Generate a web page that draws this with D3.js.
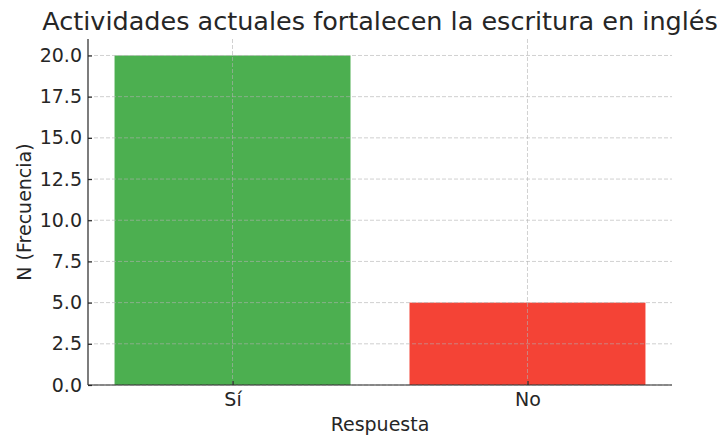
<!DOCTYPE html>
<html>
<head>
<meta charset="utf-8">
<script src="https://cdn.jsdelivr.net/npm/d3@7"></script>
<style>
  body { margin: 0; background: #fff; }
  text { font-family: "DejaVu Sans", sans-serif; fill: #262626; }
</style>
</head>
<body>
<svg id="chart" width="720" height="436"></svg>
<script>
var categories = ["Sí", "No"];
var counts = [20, 5];
var barColors = ["#4CAF50", "#F44336"];
var yTicks = [0, 2.5, 5, 7.5, 10, 12.5, 15, 17.5, 20];

var margin = {top: 39, right: 48, bottom: 51, left: 88};
var width = 720, height = 436;
var innerW = width - margin.left - margin.right;
var innerH = height - margin.top - margin.bottom;

var svg = d3.select("#chart");
var g = svg.append("g").attr("transform", "translate(" + margin.left + "," + margin.top + ")");

// matplotlib-like linear x for categories
var x = d3.scaleLinear().domain([-0.49, 1.49]).range([0, innerW]);
var y = d3.scaleLinear().domain([0, 21]).range([innerH, 0]);
var barW = x(0.8) - x(0);

g.selectAll("rect.bar")
  .data(categories)
  .enter()
  .append("rect")
  .attr("class", "bar")
  .attr("x", function(d, i) { return x(i) - barW / 2; })
  .attr("y", function(d, i) { return y(counts[i]); })
  .attr("width", barW)
  .attr("height", function(d, i) { return innerH - y(counts[i]); })
  .attr("fill", function(d, i) { return barColors[i]; });

// grid on top of bars
var grid = g.append("g").attr("class", "grid");
grid.selectAll("line.h")
  .data(yTicks)
  .enter()
  .append("line")
  .attr("x1", 0).attr("x2", innerW)
  .attr("y1", function(d) { return y(d); })
  .attr("y2", function(d) { return y(d); });
grid.selectAll("line.v")
  .data(categories)
  .enter()
  .append("line")
  .attr("x1", function(d, i) { return x(i); })
  .attr("x2", function(d, i) { return x(i); })
  .attr("y1", 0).attr("y2", innerH);
grid.selectAll("line")
  .attr("stroke", "#b0b0b0")
  .attr("stroke-opacity", 0.6)
  .attr("stroke-width", 1)
  .attr("stroke-dasharray", "4,2");

// axes, ticks inward
var yAxis = d3.axisRight(y).tickValues(yTicks).tickFormat(d3.format(".1f")).tickSize(4);
var yg = g.append("g").call(yAxis);
yg.selectAll("text").attr("text-anchor", "end").attr("x", -6).style("font-size", "19px");

var xAxis = d3.axisTop(x).tickValues([0, 1]).tickFormat(function(d) { return categories[d]; }).tickSize(4);
var xg = g.append("g").attr("transform", "translate(0," + innerH + ")").call(xAxis);
xg.selectAll("text").attr("y", 21).attr("dy", "0").style("font-size", "19px");

[yg, xg].forEach(function(a) {
  a.select(".domain").remove();
  a.selectAll("line").attr("stroke", "#262626").attr("stroke-width", 1.2);
  a.attr("font-family", null).attr("font-size", null);
});

// left and bottom spines
g.append("line").attr("x1", 0).attr("x2", 0).attr("y1", 0).attr("y2", innerH)
  .attr("stroke", "#262626").attr("stroke-width", 1.2);
g.append("line").attr("x1", 0).attr("x2", innerW).attr("y1", innerH).attr("y2", innerH)
  .attr("stroke", "#262626").attr("stroke-width", 1.2);

// labels
svg.append("text")
  .attr("x", margin.left + innerW / 2)
  .attr("y", 30)
  .attr("text-anchor", "middle")
  .style("font-size", "25.5px")
  .text("Actividades actuales fortalecen la escritura en inglés");

svg.append("text")
  .attr("x", margin.left + innerW / 2)
  .attr("y", 431)
  .attr("text-anchor", "middle")
  .style("font-size", "19px")
  .text("Respuesta");

svg.append("text")
  .attr("transform", "translate(31," + (margin.top + innerH / 2) + ") rotate(-90)")
  .attr("text-anchor", "middle")
  .style("font-size", "19px")
  .text("N (Frecuencia)");
</script>
</body>
</html>
